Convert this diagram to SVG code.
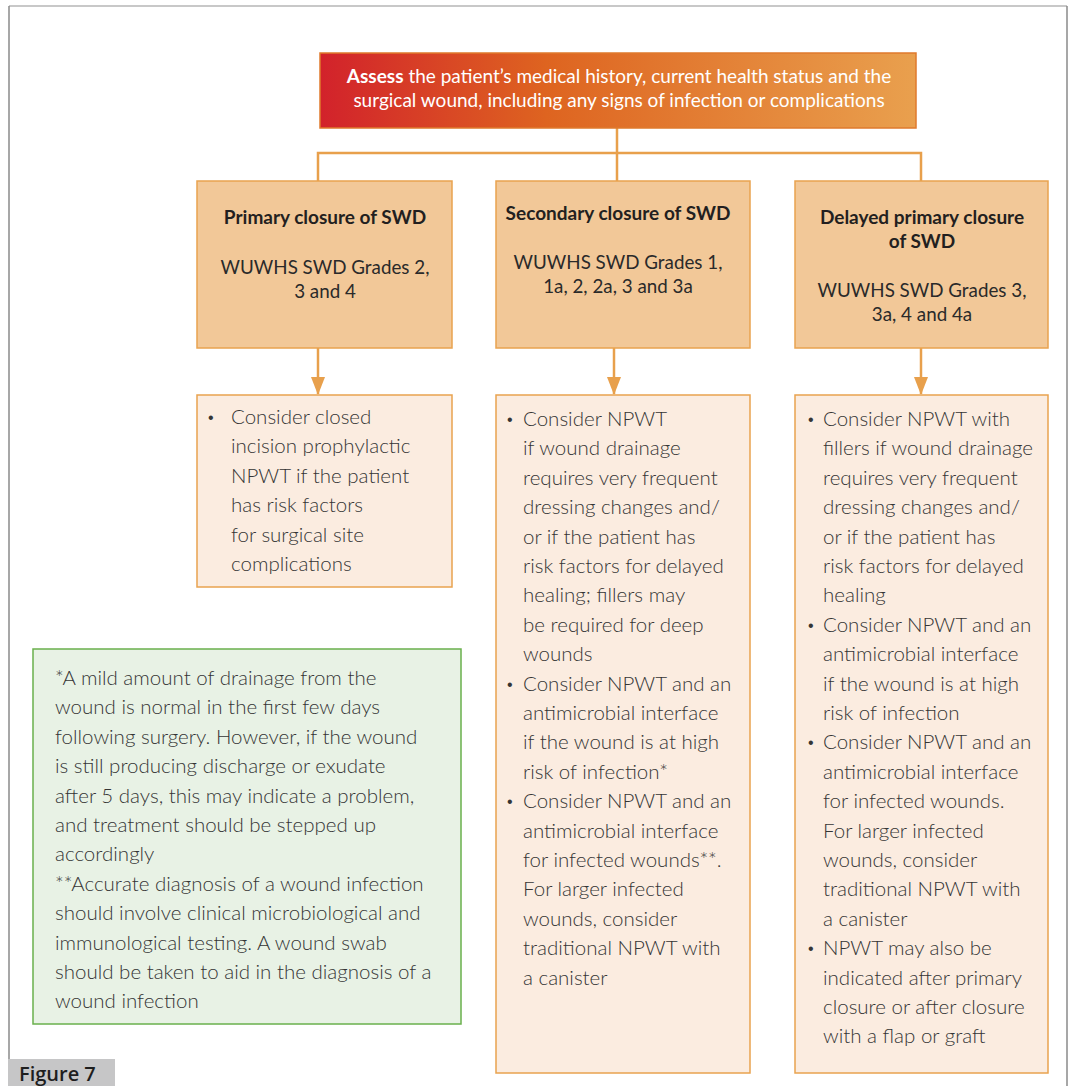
<svg xmlns="http://www.w3.org/2000/svg" width="1072" height="1086" viewBox="0 0 1072 1086">
<defs>
<linearGradient id="g" x1="0" y1="0" x2="1" y2="0">
<stop offset="0" stop-color="#d2222b"/>
<stop offset="0.38" stop-color="#de6420"/>
<stop offset="1" stop-color="#e9a04e"/>
</linearGradient>
<marker id="ah" markerWidth="18" markerHeight="14" refX="17" refY="7" orient="auto" markerUnits="userSpaceOnUse" viewBox="0 0 18 14">
<path d="M0,0 L18,7 L0,14 Z" fill="#e8a04c"/>
</marker>
</defs>
<style>
.t{font-family:Lato,"Liberation Sans",sans-serif;font-size:20.5px;font-weight:300;fill:#353535}
.b{font-family:"Liberation Sans",sans-serif;font-size:16px;fill:#353535}
.h{font-family:Lato,"Liberation Sans",sans-serif;font-size:19px;font-weight:bold;fill:#231f20;text-anchor:middle}
.gr{font-family:Lato,"Liberation Sans",sans-serif;font-size:18.8px;fill:#2a2a2a;text-anchor:middle}
.grade{fill:#f2c898;stroke:#e9a34f;stroke-width:1.5}
.opt{fill:#fbece0;stroke:#e9a34f;stroke-width:1.5}
.conn{stroke:#e8a04c;stroke-width:2.5;fill:none}
</style>
<rect x="0" y="0" width="1072" height="1086" fill="#ffffff"/>
<g id="frame">
<line x1="9" y1="6" x2="1067" y2="6" stroke="#c8c8c8" stroke-width="2"/>
<line x1="9" y1="6" x2="9" y2="1059" stroke="#8a8a8a" stroke-width="1.5"/>
<line x1="1067" y1="6" x2="1067" y2="1086" stroke="#8a8a8a" stroke-width="1.5"/>
</g>
<g id="connectors">
<path class="conn" d="M617,128 V153 M318,181 V153 H921 V181 M617,153 V181"/>
<line class="conn" x1="318" y1="348" x2="318" y2="394" marker-end="url(#ah)"/>
<line class="conn" x1="614" y1="348" x2="614" y2="394" marker-end="url(#ah)"/>
<line class="conn" x1="921" y1="348" x2="921" y2="394" marker-end="url(#ah)"/>
</g>
<g id="assess">
<rect x="320" y="53" width="596" height="75" fill="url(#g)" stroke="#df7a2c" stroke-width="1.5"/>
<text x="619" y="83" text-anchor="middle" style="font-family:Lato,'Liberation Sans',sans-serif;font-size:19px;fill:#ffffff"><tspan font-weight="bold">Assess</tspan> the patient’s medical history, current health status and the</text>
<text x="619" y="107" text-anchor="middle" style="font-family:Lato,'Liberation Sans',sans-serif;font-size:19px;fill:#ffffff">surgical wound, including any signs of infection or complications</text>
</g>
<g id="primary">
<rect class="grade" x="197" y="181" width="255" height="167"/>
<text class="h" x="325" y="224">Primary closure of SWD</text>
<text class="gr" x="325" y="274">WUWHS SWD Grades 2,</text>
<text class="gr" x="325" y="298">3 and 4</text>
</g>
<g id="secondary">
<rect class="grade" x="496" y="181" width="254" height="167"/>
<text class="h" x="618" y="220">Secondary closure of SWD</text>
<text class="gr" x="618" y="269">WUWHS SWD Grades 1,</text>
<text class="gr" x="618" y="293">1a, 2, 2a, 3 and 3a</text>
</g>
<g id="delayed">
<rect class="grade" x="795" y="181" width="253" height="167"/>
<text class="h" x="922" y="224">Delayed primary closure</text>
<text class="h" x="922" y="248">of SWD</text>
<text class="gr" x="922" y="297">WUWHS SWD Grades 3,</text>
<text class="gr" x="922" y="321">3a, 4 and 4a</text>
</g>
<g id="primary-options">
<rect class="opt" x="197" y="395" width="255" height="192"/>
<text class="b" x="208" y="423">•</text>
<text class="t" x="231" y="424">Consider closed</text>
<text class="t" x="231" y="453.4">incision prophylactic</text>
<text class="t" x="231" y="482.8">NPWT if the patient</text>
<text class="t" x="231" y="512.2">has risk factors</text>
<text class="t" x="231" y="541.6">for surgical site</text>
<text class="t" x="231" y="571">complications</text>
</g>
<g id="secondary-options">
<rect class="opt" x="496" y="395" width="254" height="678"/>
<text class="b" x="507" y="425">•</text>
<text class="t" x="523" y="426">Consider NPWT</text>
<text class="t" x="523" y="455.4">if wound drainage</text>
<text class="t" x="523" y="484.8">requires very frequent</text>
<text class="t" x="523" y="514.2">dressing changes and/</text>
<text class="t" x="523" y="543.6">or if the patient has</text>
<text class="t" x="523" y="573">risk factors for delayed</text>
<text class="t" x="523" y="602.4">healing; fillers may</text>
<text class="t" x="523" y="631.8">be required for deep</text>
<text class="t" x="523" y="661.2">wounds</text>
<text class="b" x="507" y="689.6">•</text>
<text class="t" x="523" y="690.6">Consider NPWT and an</text>
<text class="t" x="523" y="720">antimicrobial interface</text>
<text class="t" x="523" y="749.4">if the wound is at high</text>
<text class="t" x="523" y="778.8">risk of infection*</text>
<text class="b" x="507" y="807.2">•</text>
<text class="t" x="523" y="808.2">Consider NPWT and an</text>
<text class="t" x="523" y="837.6">antimicrobial interface</text>
<text class="t" x="523" y="867">for infected wounds**.</text>
<text class="t" x="523" y="896.4">For larger infected</text>
<text class="t" x="523" y="925.8">wounds, consider</text>
<text class="t" x="523" y="955.2">traditional NPWT with</text>
<text class="t" x="523" y="984.6">a canister</text>
</g>
<g id="delayed-options">
<rect class="opt" x="795" y="395" width="253" height="678"/>
<text class="b" x="808" y="425">•</text>
<text class="t" x="823" y="426">Consider NPWT with</text>
<text class="t" x="823" y="455.4">fillers if wound drainage</text>
<text class="t" x="823" y="484.8">requires very frequent</text>
<text class="t" x="823" y="514.2">dressing changes and/</text>
<text class="t" x="823" y="543.6">or if the patient has</text>
<text class="t" x="823" y="573">risk factors for delayed</text>
<text class="t" x="823" y="602.4">healing</text>
<text class="b" x="808" y="630.8">•</text>
<text class="t" x="823" y="631.8">Consider NPWT and an</text>
<text class="t" x="823" y="661.2">antimicrobial interface</text>
<text class="t" x="823" y="690.6">if the wound is at high</text>
<text class="t" x="823" y="720">risk of infection</text>
<text class="b" x="808" y="748.4">•</text>
<text class="t" x="823" y="749.4">Consider NPWT and an</text>
<text class="t" x="823" y="778.8">antimicrobial interface</text>
<text class="t" x="823" y="808.2">for infected wounds.</text>
<text class="t" x="823" y="837.6">For larger infected</text>
<text class="t" x="823" y="867">wounds,  consider</text>
<text class="t" x="823" y="896.4">traditional NPWT with</text>
<text class="t" x="823" y="925.8">a canister</text>
<text class="b" x="808" y="954.2">•</text>
<text class="t" x="823" y="955.2">NPWT may also be</text>
<text class="t" x="823" y="984.6">indicated after primary</text>
<text class="t" x="823" y="1014">closure or after closure</text>
<text class="t" x="823" y="1043.4">with a flap or graft</text>
</g>
<g id="footnote">
<rect x="33" y="649" width="428" height="375" fill="#e8f2e5" stroke="#6ab04c" stroke-width="1.5"/>
<text class="t" x="55" y="685">*A mild amount of drainage from the</text>
<text class="t" x="55" y="714.4">wound is normal in the first few days</text>
<text class="t" x="55" y="743.8">following surgery. However, if the wound</text>
<text class="t" x="55" y="773.2">is still producing discharge or exudate</text>
<text class="t" x="55" y="802.6">after 5 days, this may indicate a problem,</text>
<text class="t" x="55" y="832">and treatment should be stepped up</text>
<text class="t" x="55" y="861.4">accordingly</text>
<text class="t" x="55" y="890.8">**Accurate diagnosis of a wound infection</text>
<text class="t" x="55" y="920.2">should involve clinical microbiological and</text>
<text class="t" x="55" y="949.6">immunological testing. A wound swab</text>
<text class="t" x="55" y="979">should be taken to aid in the diagnosis of a</text>
<text class="t" x="55" y="1008.4">wound infection</text>
</g>
<g id="figure-label">
<rect x="8" y="1059" width="107" height="27" fill="#c6c6c7"/>
<text x="19" y="1081" style="font-family:'Open Sans','Liberation Sans',sans-serif;font-size:20px;font-weight:600;fill:#1e1e1e">Figure 7</text>
</g>
</svg>
